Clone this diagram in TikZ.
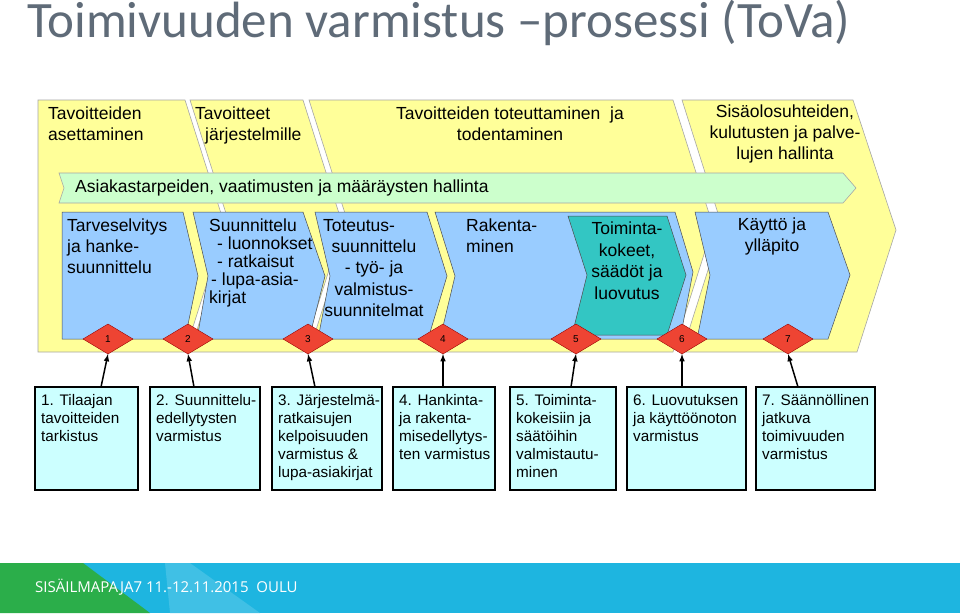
\documentclass[tikz,border=0pt]{standalone}
\usepackage{fontspec}
\setmainfont{Liberation Sans}
\newfontfamily\titlefont{Carlito}
\newfontfamily\footfont{Open Sans}
\definecolor{ylw}{HTML}{FFFF99}
\definecolor{grn}{HTML}{CCFFCC}
\definecolor{blu}{HTML}{99CCFF}
\definecolor{teal2}{HTML}{33C6C3}
\definecolor{cyanbox}{HTML}{CCFFFF}
\definecolor{dia}{HTML}{EE4433}
\definecolor{footblue}{HTML}{1EB5E0}
\definecolor{footgreen}{HTML}{2BAE4A}
\definecolor{titlegray}{HTML}{5F6B78}
\begin{document}
\begin{tikzpicture}[x=1pt,y=-1pt,
  yband/.style={fill=ylw,draw=gray!70,line width=0.6pt},
  bband/.style={fill=blu,draw=gray!60!black,line width=0.5pt},
  txt/.style={font=\fontsize{17.5}{21}\selectfont,align=left,anchor=north west,inner sep=0},
  ctxt/.style={font=\fontsize{17.5}{21}\selectfont,align=center,anchor=north,inner sep=0},
  dmd/.style={fill=dia,draw=red!60!black,line width=0.4pt},
  box/.style={fill=cyanbox,draw=black,line width=1.4pt},
  btxt/.style={font=\fontsize{15.3}{18}\selectfont,align=left,anchor=north west,inner sep=0},
  arr/.style={-latex,line width=1.5pt}]
\useasboundingbox (0,0) rectangle (960,613);
\fill[white] (0,0) rectangle (960,613);
% title
\node[anchor=west,inner sep=0,text=titlegray,font=\titlefont\fontsize{51}{56}\selectfont] (title) at (27,23) {Toimivuuden varmistus –prosessi (ToVa)};
% yellow bands
\draw[yband] (38,100) -- (185,100) -- (225,226) -- (185,352) -- (38,352) -- cycle;
\draw[yband] (190,100) -- (303,100) -- (343,226) -- (303,352) -- (190,352) -- (230,226) -- cycle;
\draw[yband] (309,100) -- (673,100) -- (713,226) -- (673,352) -- (309,352) -- (349,226) -- cycle;
\draw[yband] (682,100) -- (853,100) -- (896,230) -- (857,352) -- (682,352) -- (722,226) -- cycle;
% green arrow
\draw[fill=grn,draw=gray!70,line width=0.6pt] (59,173) -- (843,173) -- (856,188) -- (843,203) -- (59,203) -- (64,188) -- cycle;
\node[anchor=west,inner sep=0,font=\fontsize{17.5}{20}\selectfont] (green) at (75,188) {Asiakastarpeiden, vaatimusten ja määräysten hallinta};
% blue chevrons
\draw[bband] (62,212) -- (183,212) -- (198,276) -- (185,339) -- (62,339) -- cycle;
\draw[bband] (193,212) -- (303,212) -- (325,276) -- (309,339) -- (197,339) -- (208,276) -- cycle;
\draw[bband] (315,212) -- (427,212) -- (447,276) -- (428,339) -- (318,339) -- (330,276) -- cycle;
\draw[bband] (435,212) -- (675,212) -- (693,272) -- (680,339) -- (440,339) -- (455,276) -- cycle;
\draw[fill=teal2,draw=gray!60!black,line width=0.5pt] (568,216) -- (667,216) -- (686,275) -- (667,335) -- (572,335) -- (587,275) -- cycle;
\draw[bband] (695,212) -- (828,212) -- (850,275) -- (828,339) -- (697,339) -- (710,275) -- cycle;
% top texts
\node[txt] (t1) at (48,107) {Tavoitteiden\\asettaminen};
\node[txt] (t2) at (195,107) {Tavoitteet\\\hspace*{10pt}järjestelmille};
\node[ctxt] (t3) at (510,107) {Tavoitteiden toteuttaminen\ \ ja\\todentaminen};
\node[ctxt] (t4) at (785,105) {Sisäolosuhteiden,\\kulutusten ja palve-\\lujen hallinta};
% blue texts
\node[txt,font=\fontsize{17.5}{21}\selectfont] (b1) at (67,219) {Tarveselvitys\\ja hanke-\\suunnittelu};
\node[txt,font=\fontsize{17.5}{18}\selectfont] (b2) at (209,219) {Suunnittelu\\\hspace*{8pt}- luonnokset\\\hspace*{8pt}- ratkaisut\\\hspace*{2pt}- lupa-asia-\\kirjat};
\node[ctxt,font=\fontsize{17.5}{21.3}\selectfont] (b3) at (374,219) {\hspace*{-30pt}Toteutus-\\suunnittelu\\- työ- ja\\valmistus-\\suunnitelmat};
\node[txt,font=\fontsize{17.5}{21}\selectfont] (b4) at (466,219) {Rakenta-\\minen};
\node[ctxt,font=\fontsize{17.5}{21.5}\selectfont] (b5) at (627,222) {Toiminta-\\kokeet,\\säädöt ja\\luovutus};
\node[ctxt,font=\fontsize{17.5}{21}\selectfont] (b6) at (772,218) {Käyttö ja\\ylläpito};
% diamonds
\foreach \i/\x in {1/108,2/188,3/308,4/443,5/576,6/682,7/788}{
  \draw[dmd] (\x-25,339) -- (\x,324) -- (\x+25,339) -- (\x,354) -- cycle;
  \node[inner sep=0,font=\fontsize{10}{10}\selectfont] (d\i) at (\x,339) {\i};
  \coordinate (dt\i) at (\x,354);
}
% bottom boxes
\foreach \i/\a/\b/\t in {1/35/138/{1. Tilaajan\\tavoitteiden\\tarkistus},
  2/150/260/{2. Suunnittelu-\\edellytysten\\varmistus},
  3/272/382/{3. Järjestelmä-\\ratkaisujen\\kelpoisuuden\\varmistus \&\\lupa-asiakirjat},
  4/393/495/{4. Hankinta-\\ja rakenta-\\misedellytys-\\ten varmistus},
  5/510/616/{5. Toiminta-\\kokeisiin ja\\säätöihin\\valmistautu-\\minen},
  6/627/746/{6. Luovutuksen\\ja käyttöönoton\\varmistus},
  7/756/875/{7. Säännöllinen\\jatkuva\\toimivuuden\\varmistus}}{
  \draw[box] (\a,387) rectangle (\b,490);
  \node[btxt] (x\i) at (\a+6,394) {\t};
}
\foreach \i/\s in {1/101,2/194,3/315,4/443,5/571,6/682,7/798}{
  \coordinate (s\i) at (\s,387);
  \draw[arr] (s\i) -- (dt\i);
}
% footer
\fill[footblue] (0,563) rectangle (960,613);
\fill[footblue!85!white] (165,563) -- (190,563) -- (260,613) -- (170,613) -- cycle;
\fill[footgreen] (0,563) -- (83,563) -- (150,613) -- (0,613) -- cycle;
\node[anchor=west,inner sep=0,text=white,font=\footfont\fontsize{15}{18}\selectfont] (foot) at (35,587) {SISÄILMAPAJA7 11.-12.11.2015\ \ OULU};
\end{tikzpicture}
\end{document}
